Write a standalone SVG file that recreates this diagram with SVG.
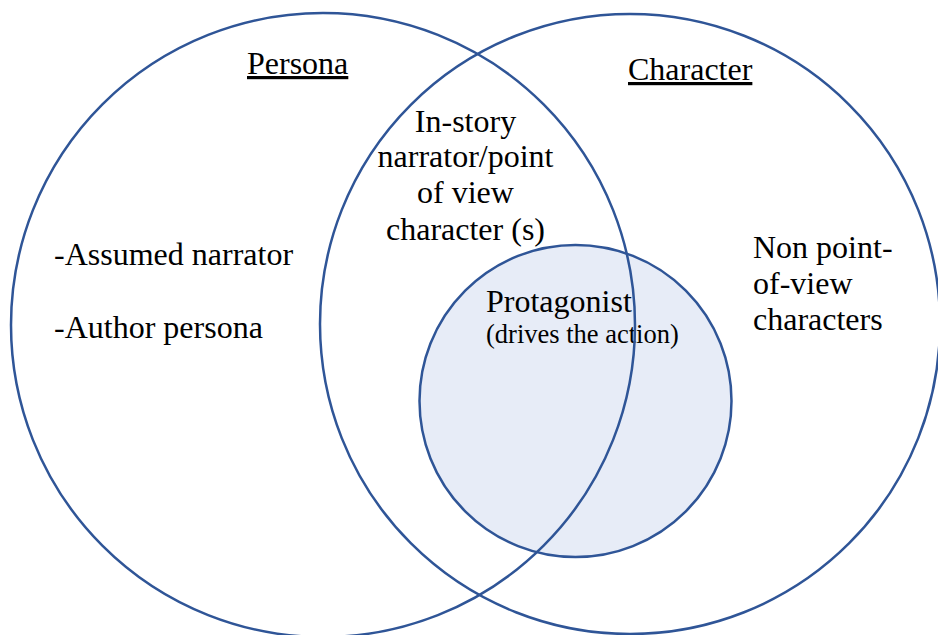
<svg xmlns="http://www.w3.org/2000/svg" width="938" height="635" viewBox="0 0 938 635">
<style>
.ring{fill:none;stroke:#2f5597;stroke-width:2.5}
text{font-family:'Liberation Serif','Times New Roman',serif;font-size:32px;fill:#000}
.s{font-size:26.5px}
.u{text-decoration:underline}
</style>
<rect width="938" height="635" fill="#fff"/>
<g id="protagonist">
<circle cx="575.5" cy="401" r="156" fill="#e7ecf7" stroke="#2f5597" stroke-width="2.5"/>
<text x="486" y="312">Protagonist</text>
<text class="s" x="486" y="343">(drives the action)</text>
</g>
<g id="persona">
<circle class="ring" cx="323" cy="325" r="312"/>
<text class="u" x="247" y="74">Persona</text>
<text x="54" y="265">-Assumed narrator</text>
<text x="54" y="338">-Author persona</text>
</g>
<g id="character">
<circle class="ring" cx="630" cy="324" r="310"/>
<text class="u" x="628" y="80">Character</text>
<text x="753" y="258">Non point-</text>
<text x="753" y="294">of-view</text>
<text x="753" y="330">characters</text>
</g>
<g id="overlap">
<text text-anchor="middle" x="465.5" y="132">In-story</text>
<text text-anchor="middle" x="465.5" y="167">narrator/point</text>
<text text-anchor="middle" x="465.5" y="203">of view</text>
<text text-anchor="middle" x="465.5" y="240">character (s)</text>
</g>
<g id="connectors"></g>
</svg>
